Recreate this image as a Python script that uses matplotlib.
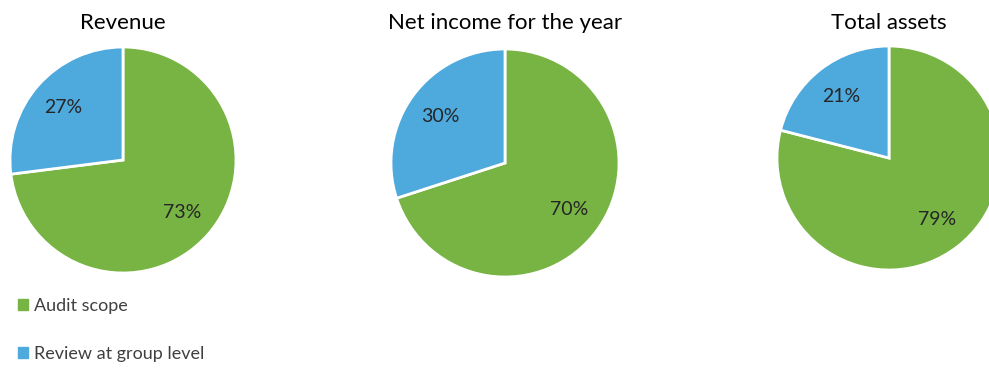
import matplotlib.pyplot as plt
import matplotlib.patches as mpatches

# Values
titles = ['Revenue', 'Net income for the year', 'Total assets']
audit_scope = [73, 70, 79]
group_review = [27, 30, 21]
legend_labels = ['Audit scope', 'Review at group level']
colors = ['#77B443', '#4EA9DD']

W, H = 989, 369
plt.rcParams['font.family'] = ['Lato', 'DejaVu Sans']
fig = plt.figure(figsize=(W / 100, H / 100), dpi=100)

# pie centres / radii in pixels
centres = [(123, 160, 113), (505, 163, 114), (889, 158, 112)]

for i, (cx, cy, r) in enumerate(centres):
    ax = fig.add_axes([(cx - r) / W, 1 - (cy + r) / H, 2 * r / W, 2 * r / H])
    ax.pie([audit_scope[i], group_review[i]], colors=colors, startangle=90,
           counterclock=False, autopct='%d%%', pctdistance=0.7,
           wedgeprops=dict(edgecolor='white', linewidth=2),
           textprops=dict(fontsize=14, color='#262626'))
    ax.set_xlim(-1.0, 1.0)
    ax.set_ylim(-1.0, 1.0)
    ax.set_aspect('equal')
    ax.axis('off')
    fig.text(cx / W, 1 - 23 / H, titles[i], ha='center', va='center', fontsize=16, color='black')

handles = [mpatches.Patch(color=c) for c in colors]
fig.legend(handles, legend_labels, loc='upper left', bbox_to_anchor=(2 / W, 1 - 282 / H),
           frameon=False, fontsize=13, handlelength=0.55, handleheight=0.55,
           handletextpad=0.3, labelspacing=1.75, labelcolor='#404040')

fig.savefig('out.png', dpi=100)
